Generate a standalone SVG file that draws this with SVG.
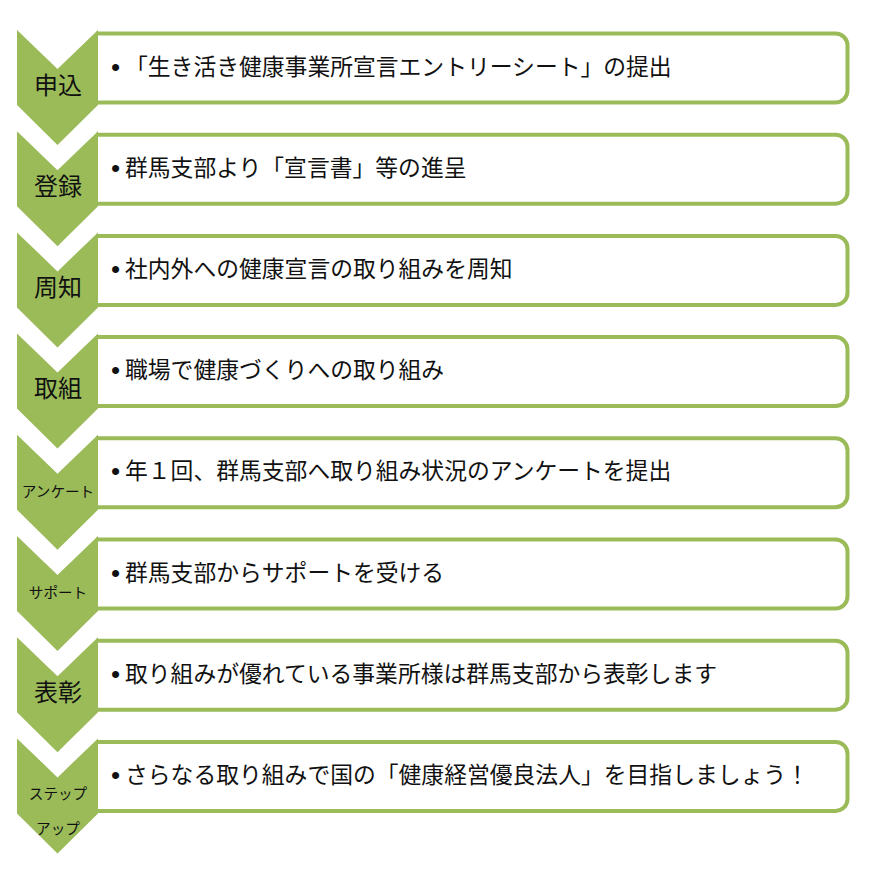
<svg xmlns="http://www.w3.org/2000/svg" xmlns:xlink="http://www.w3.org/1999/xlink" width="874" height="893" viewBox="0 0 874 893">
<style>
.box{fill:#ffffff;stroke:#9BBB59;stroke-width:4}
.chev{fill:#9BBB59}
.t{font-family:"Noto Sans CJK JP","Noto Sans",sans-serif;font-size:22.8px;fill:#111111}
.b{font-family:"Liberation Sans",sans-serif;font-size:26px;fill:#111111}
.lb{font-family:"Noto Sans CJK JP",sans-serif;font-size:24px;fill:#111111;text-anchor:middle}
.ls{font-family:"Noto Sans CJK JP",sans-serif;font-size:14.6px;fill:#111111;text-anchor:middle}
</style>
<defs>
<path id="chevron" class="chev" d="M17,0 L57.5,39 L98,0 L98,75 L57.5,115 L17,75 Z"/>
<path id="panel" class="box" d="M96,3.5 H835.5 A12,12 0 0 1 847.5,15.5 V60.5 A12,12 0 0 1 835.5,72.5 H96"/>
</defs>
<rect width="874" height="893" fill="#ffffff"/>
<g id="connectors"></g>

<g id="step1" transform="translate(0,30)">
<use xlink:href="#panel"/>
<use xlink:href="#chevron"/>
<text class="lb" x="58" y="63.5">申込</text>
<text class="b" x="111" y="45.5">•</text>
<text class="t" x="125" y="44.5">「生き活き健康事業所宣言エントリーシート」の提出</text>
</g>

<g id="step2" transform="translate(0,131.2)">
<use xlink:href="#panel"/>
<use xlink:href="#chevron"/>
<text class="lb" x="58" y="63.5">登録</text>
<text class="b" x="111" y="45.5">•</text>
<text class="t" x="125" y="44.5">群馬支部より「宣言書」等の進呈</text>
</g>

<g id="step3" transform="translate(0,232.4)">
<use xlink:href="#panel"/>
<use xlink:href="#chevron"/>
<text class="lb" x="58" y="63.5">周知</text>
<text class="b" x="111" y="45.5">•</text>
<text class="t" x="125" y="44.5">社内外への健康宣言の取り組みを周知</text>
</g>

<g id="step4" transform="translate(0,333.6)">
<use xlink:href="#panel"/>
<use xlink:href="#chevron"/>
<text class="lb" x="58" y="63.5">取組</text>
<text class="b" x="111" y="45.5">•</text>
<text class="t" x="125" y="44.5">職場で健康づくりへの取り組み</text>
</g>

<g id="step5" transform="translate(0,434.8)">
<use xlink:href="#panel"/>
<use xlink:href="#chevron"/>
<text class="ls" x="58" y="62">アンケート</text>
<text class="b" x="111" y="45.5">•</text>
<text class="t" x="125" y="44.5">年１回、群馬支部へ取り組み状況のアンケートを提出</text>
</g>

<g id="step6" transform="translate(0,536)">
<use xlink:href="#panel"/>
<use xlink:href="#chevron"/>
<text class="ls" x="58" y="61.5">サポート</text>
<text class="b" x="111" y="45.5">•</text>
<text class="t" x="125" y="44.5">群馬支部からサポートを受ける</text>
</g>

<g id="step7" transform="translate(0,637.2)">
<use xlink:href="#panel"/>
<use xlink:href="#chevron"/>
<text class="lb" x="58" y="63.5">表彰</text>
<text class="b" x="111" y="45.5">•</text>
<text class="t" x="125" y="44.5">取り組みが優れている事業所様は群馬支部から表彰します</text>
</g>

<g id="step8" transform="translate(0,738.4)">
<use xlink:href="#panel"/>
<use xlink:href="#chevron"/>
<text class="ls" x="58" y="60.5">ステップ</text>
<text class="ls" x="58" y="95.5">アップ</text>
<text class="b" x="111" y="45.5">•</text>
<text class="t" x="125" y="44.5">さらなる取り組みで国の「健康経営優良法人」を目指しましょう！</text>
</g>
</svg>
